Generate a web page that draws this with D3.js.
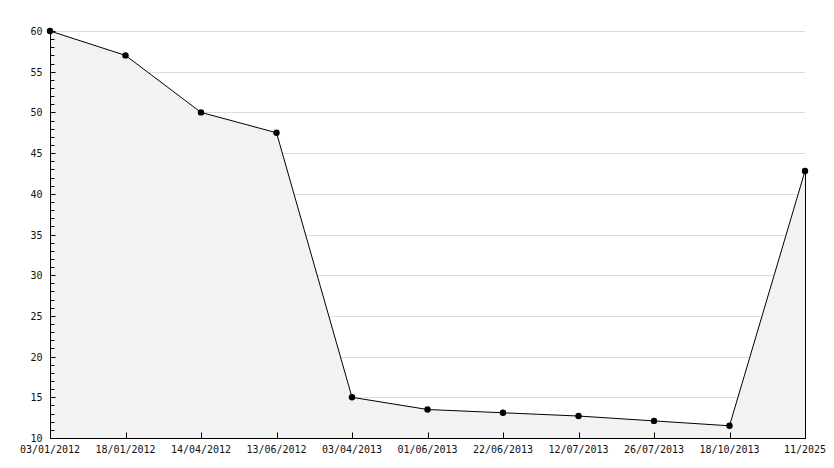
<!DOCTYPE html>
<html>
<head>
<meta charset="utf-8">
<script src="https://cdn.jsdelivr.net/npm/d3@7"></script>
<style>
body{margin:0;background:#fff}
svg{display:block}
text{font-family:"DejaVu Sans Mono",monospace;font-size:10px;fill:#111}
</style>
</head>
<body>
<svg width="834" height="468"></svg>
<script>
const dates=["03/01/2012","18/01/2012","14/04/2012","13/06/2012","03/04/2013","01/06/2013","22/06/2013","12/07/2013","26/07/2013","18/10/2013","11/2025"]
const values=[60,57,50,47.5,15,13.5,13.1,12.7,12.1,11.5,42.8]
const yTicks=[10,15,20,25,30,35,40,45,50,55,60]

const svg=d3.select("svg")
const pl=50,pr=805,pt=31,pb=438

const x=d3.scalePoint().domain(dates).range([pl,pr])
const y=d3.scaleLinear().domain([10,60]).range([pb,pt])

// grid
svg.append("g").selectAll("line").data(yTicks.filter(d=>d>10)).join("line")
.attr("x1",pl).attr("x2",pr).attr("y1",d=>Math.round(y(d))+0.5).attr("y2",d=>Math.round(y(d))+0.5)
.attr("stroke","#dcdcdc").attr("stroke-width",1)

// area
const pts=dates.map((k,i)=>({k:k,v:values[i]}))
const area=d3.area().x(d=>x(d.k)).y0(pb).y1(d=>y(d.v))
svg.append("path").datum(pts).attr("d",area).attr("fill","#f2f2f2")

// right edge
svg.append("line").attr("x1",pr+0.5).attr("x2",pr+0.5)
.attr("y1",y(values[values.length-1])).attr("y2",pb).attr("stroke","#000")

// line
const line=d3.line().x(d=>x(d.k)).y(d=>y(d.v))
svg.append("path").datum(pts).attr("d",line).attr("fill","none").attr("stroke","#000").attr("stroke-width",1)

// markers
svg.append("g").selectAll("circle").data(pts).join("circle")
.attr("cx",d=>x(d.k)).attr("cy",d=>y(d.v)).attr("r",3.2).attr("fill","#000")

// y axis
const ya=svg.append("g").attr("transform",`translate(${pl+0.5},0)`)
ya.append("line").attr("y1",pt).attr("y2",pb).attr("stroke","#000")
ya.selectAll(".minor").data(d3.range(11,61,1)).join("line")
.attr("x1",0).attr("x2",d=>d%5===0?5:4).attr("y1",d=>Math.round(y(d))+0.5).attr("y2",d=>Math.round(y(d))+0.5)
.attr("stroke","#000")
ya.selectAll("text").data(yTicks).join("text")
.attr("x",-8).attr("y",d=>y(d)+4).attr("text-anchor","end").text(d=>d)

// x axis
const xa=svg.append("g").attr("transform",`translate(0,${pb+0.5})`)
xa.append("line").attr("x1",pl).attr("x2",pr+1).attr("stroke","#000")
xa.selectAll(".t").data(dates.slice(1,-1)).join("line")
.attr("x1",d=>Math.round(x(d))+0.5).attr("x2",d=>Math.round(x(d))+0.5).attr("y1",0).attr("y2",-6)
.attr("stroke","#000")
xa.selectAll("text").data(dates).join("text")
.attr("x",d=>x(d)).attr("y",14).attr("text-anchor","middle").text(d=>d)
</script>
</body>
</html>
